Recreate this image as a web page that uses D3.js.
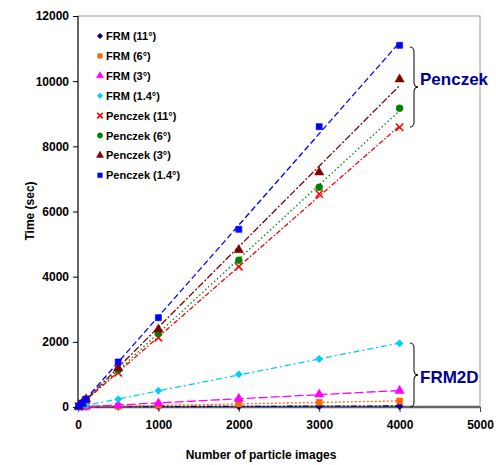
<!DOCTYPE html>
<html>
<head>
<meta charset="utf-8">
<script src="https://cdn.jsdelivr.net/npm/d3@7"></script>
<style>
  body { margin: 0; background: #fff; }
  text { font-family: Arial, "Liberation Sans", sans-serif; font-weight: bold; }
</style>
</head>
<body>
<script>
// values
var images = [10, 50, 100, 500, 1000, 2000, 3000, 4000];
var frm11 = [2, 5, 8, 10, 14, 20, 25, 30];
var frm6 = [3, 6, 10, 25, 50, 95, 144, 184];
var frm3 = [4, 8, 14, 52, 113, 255, 390, 500];
var frm14 = [8, 25, 50, 236, 500, 1003, 1473, 1955];
var pen11 = [22, 108, 215, 1053, 2127, 4306, 6538, 8585];
var pen6 = [23, 113, 228, 1135, 2262, 4503, 6743, 9168];
var pen3 = [24, 118, 240, 1188, 2385, 4819, 7203, 10057];
var pen14 = [27, 113, 236, 1381, 2741, 5454, 8603, 11100];

var xTicks = [0, 1000, 2000, 3000, 4000, 5000];
var yTicks = [0, 2000, 4000, 6000, 8000, 10000, 12000];

// "diamond" = square turned 45 degrees, like Excel's marker
var series = [
  {name: "FRM (11°)", values: frm11, color: "#000080", symbol: "diamond", dash: "6,2,2,2,2,2"},
  {name: "FRM (6°)", values: frm6, color: "#FF6600", symbol: d3.symbolSquare, dash: "2,2"},
  {name: "FRM (3°)", values: frm3, color: "#FF00FF", symbol: d3.symbolTriangle, dash: "9,3"},
  {name: "FRM (1.4°)", values: frm14, color: "#00CCFF", symbol: "diamond", dash: "6,3,2,3"},
  {name: "Penczek (11°)", values: pen11, color: "#FF0000", symbol: d3.symbolTimes, dash: "5,2,1.5,2"},
  {name: "Penczek (6°)", values: pen6, color: "#008000", symbol: d3.symbolCircle, dash: "1.5,2.5"},
  {name: "Penczek (3°)", values: pen3, color: "#800000", symbol: d3.symbolTriangle, dash: "7,2,2,2"},
  {name: "Penczek (1.4°)", values: pen14, color: "#0000FF", symbol: d3.symbolSquare, dash: "6,3"}
];

var width = 496, height = 465;
var margin = {left: 78, top: 16, right: 16, bottom: 58};

var svg = d3.select("body").append("svg")
    .attr("width", width)
    .attr("height", height);

var x = d3.scaleLinear().domain([0, 5000]).range([margin.left, width - margin.right]);
var y = d3.scaleLinear().domain([0, 12000]).range([height - margin.bottom, margin.top]);

// frame
svg.append("rect")
    .attr("x", x(0)).attr("y", y(12000))
    .attr("width", x(5000) - x(0)).attr("height", y(0) - y(12000))
    .style("fill", "none").style("stroke", "#999").style("stroke-width", 1);

// y axis
var yAxis = svg.append("g")
    .attr("transform", "translate(" + x(0) + ",0)")
    .call(d3.axisLeft(y).tickValues(yTicks).tickSize(5).tickPadding(4).tickFormat(d3.format("d")));
yAxis.selectAll("text").style("font-size", "12px").style("fill", "#000");
yAxis.select(".domain").attr("d", "M0," + y(0) + "V" + y(12000));

// x axis
var xAxis = svg.append("g")
    .attr("transform", "translate(0," + y(0) + ")")
    .call(d3.axisBottom(x).tickValues(xTicks).tickSize(5).tickPadding(8).tickFormat(d3.format("d")));
xAxis.selectAll("text").style("font-size", "12px").style("fill", "#000");
xAxis.select(".domain").attr("d", "M" + x(0) + ",0H" + x(5000))
    .style("stroke", "#666").style("stroke-width", 2.5);
xAxis.selectAll(".tick line").style("stroke", "#444");

// linear trendlines
function fit(xs, ys) {
  var mx = d3.mean(xs), my = d3.mean(ys);
  var sxy = d3.sum(xs, (v, i) => (v - mx) * (ys[i] - my));
  var sxx = d3.sum(xs, v => (v - mx) * (v - mx));
  var b = sxy / sxx;
  return {a: my - b * mx, b: b};
}

var lines = svg.append("g");
series.forEach(function(s) {
  var f = fit(images, s.values);
  var x0 = images[0], x1 = images[images.length - 1];
  lines.append("line")
      .attr("x1", x(x0)).attr("y1", y(Math.max(0, f.a + f.b * x0)))
      .attr("x2", x(x1)).attr("y2", y(f.a + f.b * x1))
      .style("stroke", s.color)
      .style("stroke-width", 1.3)
      .style("stroke-dasharray", s.dash);
});

function drawMarker(g, s, cx, cy, size) {
  var stroked = s.symbol === d3.symbolTimes;
  var diamond = s.symbol === "diamond";
  g.append("path")
      .attr("d", d3.symbol().type(diamond ? d3.symbolSquare : s.symbol).size(diamond ? size * 0.7 : size)())
      .attr("transform", "translate(" + cx + "," + cy + ")" + (diamond ? " rotate(45)" : ""))
      .style("fill", stroked ? "none" : s.color)
      .style("stroke", s.color)
      .style("stroke-width", stroked ? 1.6 : 0.5);
}

var marks = svg.append("g");
series.forEach(function(s) {
  s.values.forEach(function(v, i) {
    drawMarker(marks, s, x(images[i]), y(v), 38);
  });
});

// legend
var legend = svg.append("g");
series.forEach(function(s, i) {
  var ly = 36 + i * 19.9;
  drawMarker(legend, s, 100, ly, 22);
  legend.append("text")
      .attr("x", 106).attr("y", ly + 4)
      .style("font-size", "11px")
      .text(s.name);
});

// braces
function brace(x0, top, bottom) {
  var mid = (top + bottom) / 2, w = 8;
  return "M" + x0 + "," + top +
    "Q" + (x0 + w / 2) + "," + top + " " + (x0 + w / 2) + "," + (top + 5) +
    "L" + (x0 + w / 2) + "," + (mid - 4) +
    "Q" + (x0 + w / 2) + "," + mid + " " + (x0 + w) + "," + mid +
    "Q" + (x0 + w / 2) + "," + mid + " " + (x0 + w / 2) + "," + (mid + 4) +
    "L" + (x0 + w / 2) + "," + (bottom - 5) +
    "Q" + (x0 + w / 2) + "," + bottom + " " + x0 + "," + bottom;
}
svg.append("path").attr("d", brace(410, 47, 127))
    .style("fill", "none").style("stroke", "#000").style("stroke-width", 1);
svg.append("path").attr("d", brace(410, 343, 407))
    .style("fill", "none").style("stroke", "#000").style("stroke-width", 1);

svg.append("text").attr("x", 420).attr("y", 85)
    .style("font-size", "17px").style("fill", "#000099").text("Penczek");
svg.append("text").attr("x", 420).attr("y", 383)
    .style("font-size", "17px").style("fill", "#000099").text("FRM2D");

// axis titles
svg.append("text")
    .attr("x", 261).attr("y", 459)
    .attr("text-anchor", "middle")
    .style("font-size", "12px")
    .text("Number of particle images");
svg.append("text")
    .attr("transform", "translate(34,211) rotate(-90)")
    .attr("text-anchor", "middle")
    .style("font-size", "12px")
    .text("Time (sec)");
</script>
</body>
</html>
